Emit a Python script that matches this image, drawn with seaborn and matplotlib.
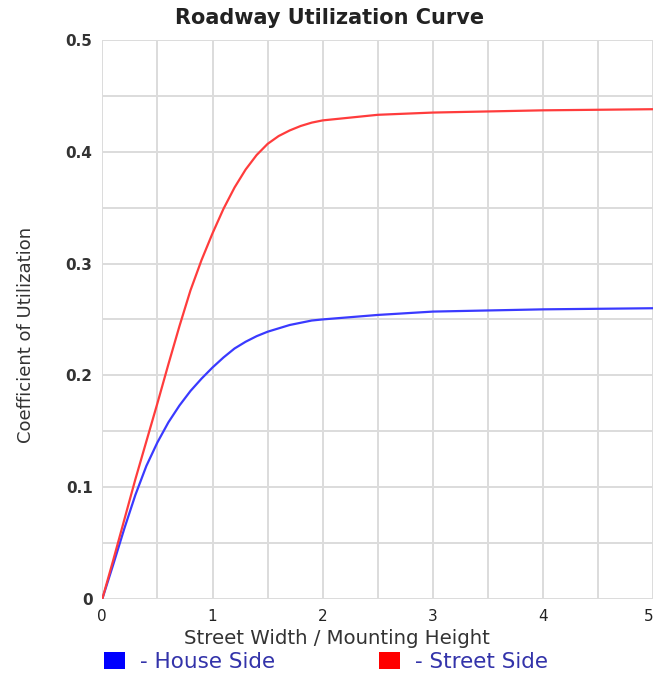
import numpy as np
import pandas as pd
import matplotlib
matplotlib.use("Agg")
import matplotlib.pyplot as plt
from matplotlib.patches import Patch
from matplotlib.ticker import MultipleLocator
import seaborn as sns

# ---- data ----
x_vals = [0, 0.1, 0.2, 0.3, 0.4, 0.5, 0.6, 0.7, 0.8, 0.9, 1.0, 1.1, 1.2, 1.3, 1.4,
          1.5, 1.6, 1.7, 1.8, 1.9, 2.0, 2.5, 3.0, 3.5, 4.0, 4.5, 5.0]
house_side = [0, 0.031, 0.063, 0.093, 0.119, 0.140, 0.158, 0.173, 0.186, 0.197, 0.207,
              0.216, 0.224, 0.230, 0.235, 0.239, 0.242, 0.245, 0.247, 0.249, 0.250,
              0.254, 0.257, 0.258, 0.259, 0.2595, 0.260]
street_side = [0, 0.035, 0.071, 0.107, 0.141, 0.175, 0.210, 0.244, 0.276, 0.303, 0.327,
               0.349, 0.368, 0.384, 0.397, 0.407, 0.414, 0.419, 0.423, 0.426, 0.428,
               0.433, 0.435, 0.436, 0.437, 0.4375, 0.438]
series_names = ["House Side", "Street Side"]
x_ticks = [0, 1, 2, 3, 4, 5]
y_ticks = [0, 0.1, 0.2, 0.3, 0.4, 0.5]
y_tick_labels = ["0", "0.1", "0.2", "0.3", "0.4", "0.5"]

df = pd.DataFrame({
    "x": x_vals * 2,
    "y": house_side + street_side,
    "series": [series_names[0]] * len(x_vals) + [series_names[1]] * len(x_vals),
})

sns.set_style("white")
plt.rcParams["font.family"] = ["DejaVu Sans"]

fig = plt.figure(figsize=(6.6, 6.76), dpi=100)
ax = fig.add_axes([0.155, 0.114, 0.835, 0.827])

colors = {"House Side": "#3a3aff", "Street Side": "#ff3c3c"}
sns.lineplot(data=df, x="x", y="y", hue="series", palette=colors, ax=ax,
             legend=False, linewidth=1.6, zorder=3)

ax.set_xlim(0, 5)
ax.set_ylim(0, 0.5)
ax.set_xticks(x_ticks)
ax.set_xticklabels([str(t) for t in x_ticks])
ax.set_yticks(y_ticks)
ax.set_yticklabels(y_tick_labels)
ax.xaxis.set_minor_locator(MultipleLocator(0.5))
ax.yaxis.set_minor_locator(MultipleLocator(0.05))
ax.grid(True, which="both", color="#dcdcdc", linewidth=1.4, zorder=0)
ax.set_axisbelow(True)
for s in ax.spines.values():
    s.set_visible(False)
ax.tick_params(which="both", length=0)
ax.tick_params(axis="y", pad=7, labelsize=11, labelcolor="#333333")
ax.tick_params(axis="x", pad=7, labelsize=11, labelcolor="#222222")
for lbl in ax.get_yticklabels():
    lbl.set_fontweight("bold")
xl = ax.get_xticklabels()
xl[-1].set_horizontalalignment("right")

fig.text(0.5, 0.973, "Roadway Utilization Curve", fontsize=15, fontweight="bold",
         color="#222222", ha="center", va="center")
ax.set_xlabel("Street Width / Mounting Height", fontsize=14.2, color="#333333")
ax.xaxis.set_label_coords(0.426, -0.053)
ax.set_ylabel("Coefficient of Utilization", fontsize=13, color="#333333")
ax.yaxis.set_label_coords(-0.123, 0.472)

handles = [Patch(facecolor="#0000ff", edgecolor="none"),
           Patch(facecolor="#ff0000", edgecolor="none")]
leg = fig.legend(handles, ["- " + n for n in series_names], ncol=2,
                 loc="center left", bbox_to_anchor=(0.157, 0.021), frameon=False,
                 fontsize=15.5, handlelength=1.0, handleheight=0.85,
                 handletextpad=0.7, columnspacing=4.8, borderaxespad=0.0,
                 borderpad=0.0)
for t in leg.get_texts():
    t.set_color("#3333aa")

fig.savefig("out.png", dpi=100)
